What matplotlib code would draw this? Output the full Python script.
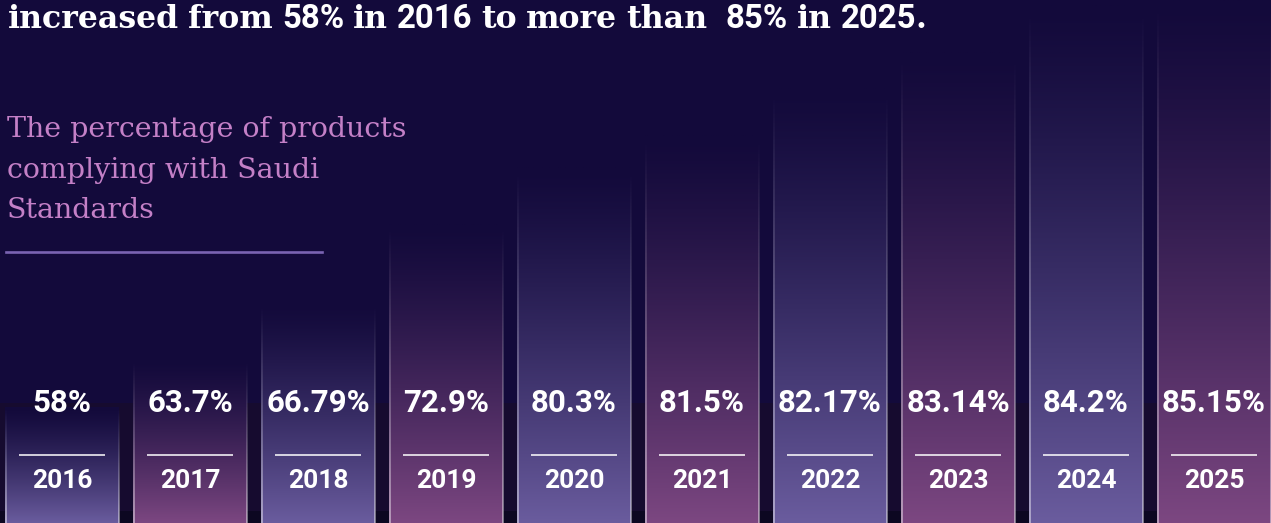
import matplotlib.pyplot as plt
import numpy as np
from matplotlib.colors import to_rgb
from matplotlib.lines import Line2D

W, H = 1271, 523

years = ['2016', '2017', '2018', '2019', '2020', '2021', '2022', '2023', '2024', '2025']
values = [58, 63.7, 66.79, 72.9, 80.3, 81.5, 82.17, 83.14, 84.2, 85.15]
value_labels = ['58%', '63.7%', '66.79%', '72.9%', '80.3%', '81.5%', '82.17%', '83.14%', '84.2%', '85.15%']
# decorative bar heights (share of chart height), read off the picture, not to scale
bar_heights = [0.22, 0.31, 0.42, 0.57, 0.68, 0.74, 0.83, 0.90, 0.99, 1.0]

title_parts = [('increased', 'serif'), ('from', 'serif'), ('58%', 'sans'), ('in', 'serif'),
               ('2016', 'sans'), ('to', 'serif'), ('more', 'serif'), ('than ', 'serif'),
               ('85%', 'sans'), ('in', 'serif'), ('2025', 'sans'), ('.', 'serif')]
subtitle_lines = ['The percentage of products', 'complying with Saudi', 'Standards']

bg = '#130a3b'
bar_colors = ['#6a5c9e', '#7c4781']  # alternating blue / mauve
serif = 'DejaVu Serif'
sans = 'Roboto'

fig = plt.figure(figsize=(W / 100, H / 100), dpi=100, facecolor=bg)
ax = fig.add_axes([0, 0, 1, 1], facecolor=bg)
step = 128.0
x0 = 62.0
ax.set_xlim(-x0 / step, (W - x0) / step)
ax.set_ylim(0, 1)
ax.axis('off')

# faint darker band behind the label area and the very bottom
ax.axhspan(0, 0.229, color='#1a0c26', alpha=0.55, zorder=0.5, lw=0)
ax.axhspan(0, 0.022, color='#0b0720', alpha=0.9, zorder=0.6, lw=0)

width = 0.89
bgc = np.array(to_rgb(bg))
n = 256
t = np.linspace(0, 1, n)[::-1]  # image row 0 is the top (origin='upper')
for i, h in enumerate(bar_heights):
    col = np.array(to_rgb(bar_colors[i % 2]))
    fade = (1 - t) ** 1.3
    rgb = bgc[None, :] * (1 - fade[:, None]) + col[None, :] * fade[:, None]
    img = np.concatenate([rgb, np.ones((n, 1))], axis=1)[:, None, :]
    ax.imshow(img, extent=[i - width / 2, i + width / 2, 0, h], aspect='auto',
              interpolation='bilinear', zorder=2)
    # thin light edges that fade upward
    edge = np.zeros((n, 1, 4))
    edge[:, 0, :3] = 1.0
    edge[:, 0, 3] = 0.45 * (1 - t) ** 1.1
    ew = 1.4 / step
    for ex in (i - width / 2, i + width / 2 - ew):
        ax.imshow(edge, extent=[ex, ex + ew, 0, h], aspect='auto',
                  interpolation='bilinear', zorder=3)

    ax.text(i, 1 - 411.5 / H, value_labels[i], ha='center', va='baseline', color='white',
            fontsize=22.5, fontweight='bold', family=sans, zorder=5)
    ax.plot([i - 0.335, i + 0.335], [1 - 455 / H] * 2, color='white', lw=1.1, zorder=5,
            solid_capstyle='butt')
    ax.text(i, 1 - 488.5 / H, years[i], ha='center', va='baseline', color='white',
            fontsize=19, fontweight='bold', family=sans, zorder=5)

ax.set_xlim(-x0 / step, (W - x0) / step)
ax.set_ylim(0, 1)

# title: serif words with sans-serif figures
r = fig.canvas.get_renderer()
tx = 8.0 / W
ty = 1 - 28.0 / H
space = 9.0 / W
for word, kind in title_parts:
    fam = serif if kind == 'serif' else sans
    size = 22.8 if kind == 'serif' else 23.8
    if word == '.':
        tx -= space
    txt = fig.text(tx, ty, word.strip(), color='white', fontsize=size, fontweight='bold',
                   family=fam, va='baseline', ha='left')
    bb = txt.get_window_extent(renderer=r)
    tx += bb.width / W + space * (2 if word.endswith(' ') else 1)

for k, line in enumerate(subtitle_lines):
    fig.text(7.0 / W, 1 - (137 + 40.5 * k) / H, line, color='#c480c7', fontsize=20.5,
             family=serif, va='baseline', ha='left')
fig.add_artist(Line2D([6.0 / W, 322.0 / W], [1 - 252.0 / H] * 2, color='#7a63b2', lw=1.9))

fig.savefig('out.png', dpi=100, facecolor=bg)
